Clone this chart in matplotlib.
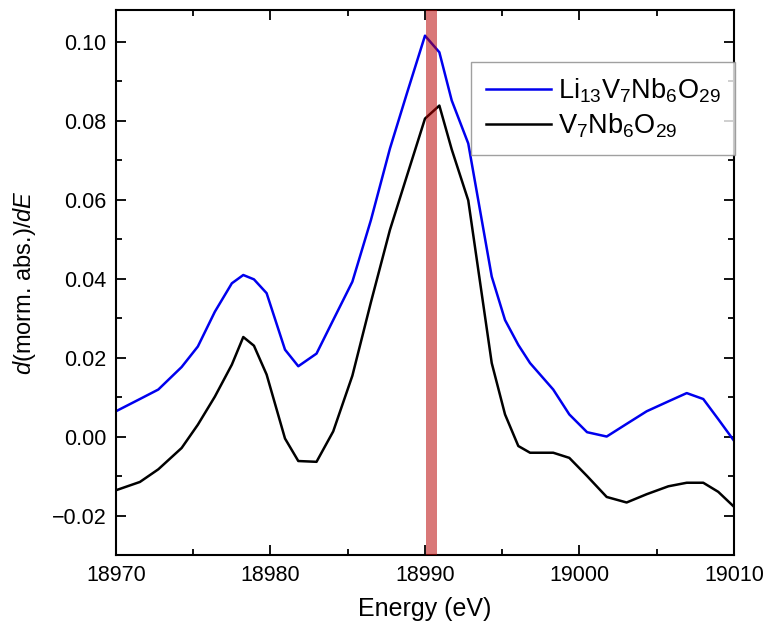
import matplotlib
matplotlib.use("Agg")
import matplotlib.pyplot as plt
from matplotlib.ticker import MultipleLocator

plt.rcParams['font.family'] = ['Liberation Sans', 'DejaVu Sans']
plt.rcParams['mathtext.fontset'] = 'custom'
plt.rcParams['mathtext.rm'] = 'Liberation Sans'
plt.rcParams['mathtext.it'] = 'Liberation Sans:italic'
plt.rcParams['mathtext.bf'] = 'Liberation Sans:bold'

energy = [18970.0, 18971.55, 18972.74, 18974.25, 18975.3, 18976.4, 18977.5, 18978.24,
          18978.93, 18979.75, 18980.94, 18981.8, 18982.98, 18984.06, 18985.3, 18986.5,
          18987.73, 18988.83, 18990.0, 18990.93, 18991.73, 18992.8, 18994.32, 18995.18,
          18996.04, 18996.8, 18998.3, 18999.34, 19000.49, 19001.76, 19003.05, 19004.35,
          19005.75, 19006.94, 19008.01, 19008.98, 19009.95]

li_vnbo = [0.0064, 0.0095, 0.0119, 0.0176, 0.0228, 0.0316, 0.0388, 0.0409,
           0.0398, 0.0363, 0.0220, 0.0178, 0.0210, 0.0295, 0.0392, 0.0548,
           0.0729, 0.0869, 0.1015, 0.0973, 0.0851, 0.0742, 0.0405, 0.0295,
           0.0232, 0.0186, 0.0119, 0.0056, 0.0011, 0.0000, 0.0032, 0.0064,
           0.0089, 0.0110, 0.0095, 0.0044, -0.0008]

vnbo = [-0.0136, -0.0115, -0.0083, -0.0029, 0.0030, 0.0101, 0.0182, 0.0252,
        0.0230, 0.0157, -0.0005, -0.0062, -0.0064, 0.0013, 0.0154, 0.0340,
        0.0523, 0.0660, 0.0805, 0.0838, 0.0727, 0.0598, 0.0186, 0.0056,
        -0.0024, -0.0041, -0.0041, -0.0054, -0.0100, -0.0153, -0.0167, -0.0146,
        -0.0126, -0.0117, -0.0117, -0.0140, -0.0176]

labels = [r"Li$_{13}$V$_7$Nb$_6$O$_{29}$", r"V$_7$Nb$_6$O$_{29}$"]
band = (18990.05, 18990.75)

fig = plt.figure(figsize=(7.69, 6.37), dpi=100)
ax = fig.add_axes([0.1508, 0.1287, 0.9545 - 0.1508, 0.9843 - 0.1287])

ax.plot(energy, li_vnbo, color='#0000ee', lw=1.8, label=labels[0], zorder=2)
ax.plot(energy, vnbo, color='black', lw=1.8, label=labels[1], zorder=2)
ax.axvspan(band[0], band[1], color=(0.72, 0.0, 0.0), alpha=0.53, lw=0, zorder=3)

ax.set_xlim(18970, 19010)
ax.set_ylim(-0.03, 0.108)
ax.xaxis.set_major_locator(MultipleLocator(10))
ax.xaxis.set_minor_locator(MultipleLocator(5))
ax.yaxis.set_major_locator(MultipleLocator(0.02))
ax.yaxis.set_minor_locator(MultipleLocator(0.01))
ax.yaxis.set_major_formatter(matplotlib.ticker.FuncFormatter(
    lambda v, p: ("%.2f" % v).replace('-', '\u2212')))
ax.tick_params(which='both', direction='in', top=True, right=True, width=1.3)
ax.tick_params(which='major', length=7, labelsize=15.5, pad=7)
ax.tick_params(which='minor', length=4)
for s in ax.spines.values():
    s.set_linewidth(1.5)

ax.set_xlabel("Energy (eV)", fontsize=18, labelpad=8)
ax.set_ylabel(r"$d$(morm. abs.)/$dE$", fontsize=17, labelpad=10)

leg = ax.legend(loc='upper right', bbox_to_anchor=(1.002, 0.905), borderaxespad=0,
                fontsize=19.5, frameon=True, fancybox=False, edgecolor='#888888',
                handlelength=2.4, handletextpad=0.25, borderpad=0.55, labelspacing=0.25)
leg.get_frame().set_linewidth(1.0)

fig.savefig("out.png", dpi=100)
